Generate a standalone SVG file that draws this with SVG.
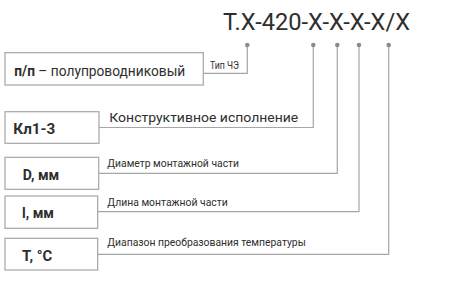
<svg xmlns="http://www.w3.org/2000/svg" width="450" height="290" viewBox="0 0 450 290">
<style>
.box{fill:#fff;stroke:#a6a6a6;stroke-width:1.2}
.ln{fill:none;stroke:#a6a6a6;stroke-width:1.2}
.dot{fill:#8c8c8c}
text{font-family:Roboto,"Liberation Sans",sans-serif;fill:#2e2e2e}
.b{font-weight:bold;font-size:15px}
.lab{font-size:12px}
.lab2{font-size:11.5px}
</style>
<rect width="450" height="290" fill="#fff"/>
<text x="223" y="30" font-size="24" textLength="187" lengthAdjust="spacingAndGlyphs">T.X-420-X-X-X-X/X</text>
<g id="connectors">
<polyline class="ln" points="247.3,45 247.3,73.3 203.3,73.3"/>
<polyline class="ln" points="313.3,45 313.3,127.5 99,127.5"/>
<polyline class="ln" points="337.3,45 337.3,173.3 98.7,173.3"/>
<polyline class="ln" points="359,45 359,211.7 97.7,211.7"/>
<polyline class="ln" points="388.7,45 388.7,254.3 97.7,254.3"/>
<circle class="dot" cx="247.3" cy="45" r="2.3"/>
<circle class="dot" cx="313.3" cy="45" r="2.3"/>
<circle class="dot" cx="337.3" cy="45" r="2.3"/>
<circle class="dot" cx="359" cy="45" r="2.3"/>
<circle class="dot" cx="388.7" cy="45" r="2.3"/>
<text x="210" y="69.3" font-size="10.5" textLength="29" lengthAdjust="spacingAndGlyphs">Тип ЧЭ</text>
<text class="lab" x="109.3" y="121.7" textLength="189" lengthAdjust="spacingAndGlyphs">Конструктивное исполнение</text>
<text class="lab2" x="107.3" y="167.3" textLength="131.7" lengthAdjust="spacingAndGlyphs">Диаметр монтажной части</text>
<text class="lab2" x="107.3" y="206" textLength="120.4" lengthAdjust="spacingAndGlyphs">Длина монтажной части</text>
<text class="lab2" x="107.3" y="246" textLength="198.4" lengthAdjust="spacingAndGlyphs">Диапазон преобразования температуры</text>
</g>
<g id="n1">
<rect class="box" x="5" y="52.7" width="198.3" height="32.3"/>
<text x="14.3" y="75.7" font-size="15" textLength="171" lengthAdjust="spacingAndGlyphs"><tspan font-weight="bold">п/п</tspan> – полупроводниковый</text>
</g>
<g id="n2">
<rect class="box" x="5" y="111.7" width="94" height="31.6"/>
<text class="b" x="13.3" y="134" textLength="42" lengthAdjust="spacingAndGlyphs">Кл1-3</text>
</g>
<g id="n3">
<rect class="box" x="5" y="157.3" width="93.7" height="32"/>
<text class="b" x="22.7" y="180" textLength="36.6" lengthAdjust="spacingAndGlyphs">D, мм</text>
</g>
<g id="n4">
<rect class="box" x="5" y="196" width="92.7" height="32.3"/>
<text class="b" x="22" y="218.3" textLength="32" lengthAdjust="spacingAndGlyphs">l, мм</text>
</g>
<g id="n5">
<rect class="box" x="5" y="238.3" width="92.7" height="31.7"/>
<text class="b" x="22" y="260.7" textLength="30.3" lengthAdjust="spacingAndGlyphs">T, °C</text>
</g>
</svg>
